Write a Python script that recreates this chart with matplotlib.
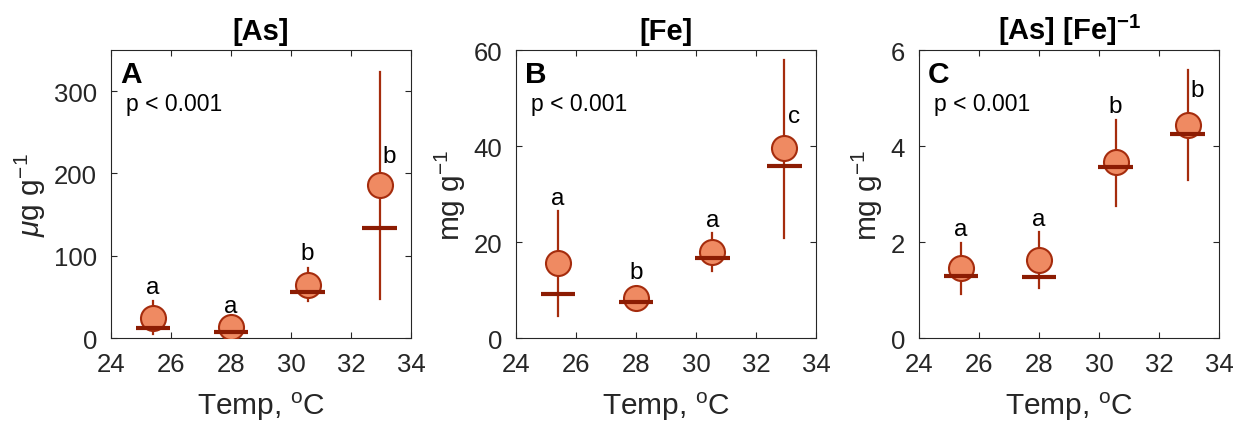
import numpy as np
import matplotlib.pyplot as plt

plt.rcParams['font.family'] = ['Liberation Sans', 'DejaVu Sans']
plt.rcParams['mathtext.fontset'] = 'custom'
plt.rcParams['mathtext.rm'] = 'Liberation Sans'
plt.rcParams['mathtext.it'] = 'Liberation Sans:italic'
plt.rcParams['mathtext.bf'] = 'Liberation Sans:bold'

# temperatures
temp = [25.4, 28.0, 30.55, 32.95]

# [As]  (ug g-1)
as_mean = [24.7, 13.4, 65, 186]
as_median = [11.7, 7.3, 56, 133.6]
as_lo = [4.5, 4, 45, 48]
as_hi = [45, 22, 85, 323]
as_letters = ['a', 'a', 'b', 'b']
as_letter_y = [62, 39, 103, 221]

# [Fe]  (mg g-1)
fe_mean = [15.6, 8.3, 18.0, 39.5]
fe_median = [9.2, 7.5, 16.7, 35.9]
fe_lo = [4.6, 6.5, 14.0, 20.9]
fe_hi = [26.4, 9.5, 21.8, 58.0]
fe_letters = ['a', 'b', 'a', 'c']
fe_letter_y = [29.1, 13.8, 24.6, 46.2]

# [As]/[Fe]
ratio_mean = [1.46, 1.63, 3.66, 4.44]
ratio_median = [1.29, 1.27, 3.57, 4.26]
ratio_lo = [0.91, 1.04, 2.75, 3.30]
ratio_hi = [1.99, 2.21, 4.55, 5.58]
ratio_letters = ['a', 'a', 'b', 'b']
ratio_letter_y = [2.27, 2.48, 4.83, 5.17]

panels = [
    ('[As]', r'$\mu$g g$^{-1}$', 'A', (0, 350), [0, 100, 200, 300],
     as_mean, as_median, as_lo, as_hi, as_letters, as_letter_y),
    ('[Fe]', r'mg g$^{-1}$', 'B', (0, 60), [0, 20, 40, 60],
     fe_mean, fe_median, fe_lo, fe_hi, fe_letters, fe_letter_y),
    (r'[As] [Fe]$^{\mathbf{-1}}$', r'mg g$^{-1}$', 'C', (0, 6), [0, 2, 4, 6],
     ratio_mean, ratio_median, ratio_lo, ratio_hi, ratio_letters, ratio_letter_y),
]

fill = '#EF8A62'
edge = '#A52C0D'
bar = '#8C1C03'
gray = '#262626'

fig = plt.figure(figsize=(12.38, 4.27), dpi=100)
lefts = [0.0897, 0.4168, 0.7424]

for left, (title, ylab, tag, ylim, yticks, mean, med, lo, hi, letters, ly) in zip(lefts, panels):
    ax = fig.add_axes([left, 0.206, 0.2423, 0.6745])
    for i, x in enumerate(temp):
        ax.plot([x, x], [lo[i], hi[i]], color=edge, lw=1.6, zorder=2)
        ax.plot(x, mean[i], 'o', ms=18, mfc=fill, mec=edge, mew=1.5, zorder=3)
        ax.plot([x - 0.58, x + 0.58], [med[i], med[i]], color=bar, lw=3, zorder=4,
                solid_capstyle='butt')
        dx = 0.32 if i == 3 else 0.0
        ax.text(x + dx, ly[i], letters[i], ha='center', va='center', fontsize=17.5)
    ax.set_xlim(24, 34)
    ax.set_ylim(*ylim)
    ax.set_xticks([24, 26, 28, 30, 32, 34])
    ax.set_yticks(yticks)
    ax.tick_params(direction='in', top=True, right=True, labelsize=18.5,
                   colors=gray, length=4, width=0.8, pad=10)
    for s in ax.spines.values():
        s.set_color(gray)
        s.set_linewidth(0.8)
    ax.set_title(title, fontsize=21, fontweight='bold', pad=8)
    ax.set_xlabel(r'Temp, $^{\mathrm{o}}$C', fontsize=21.5, color=gray, labelpad=10)
    ax.set_ylabel(ylab, fontsize=21.5, color=gray, labelpad=4)
    ax.text(0.03, 0.965, tag, transform=ax.transAxes, fontsize=21.5, fontweight='bold',
            va='top', ha='left')
    ax.text(0.05, 0.815, 'p < 0.001', transform=ax.transAxes, fontsize=16.5,
            va='center', ha='left')

fig.savefig('out.png', dpi=100)
